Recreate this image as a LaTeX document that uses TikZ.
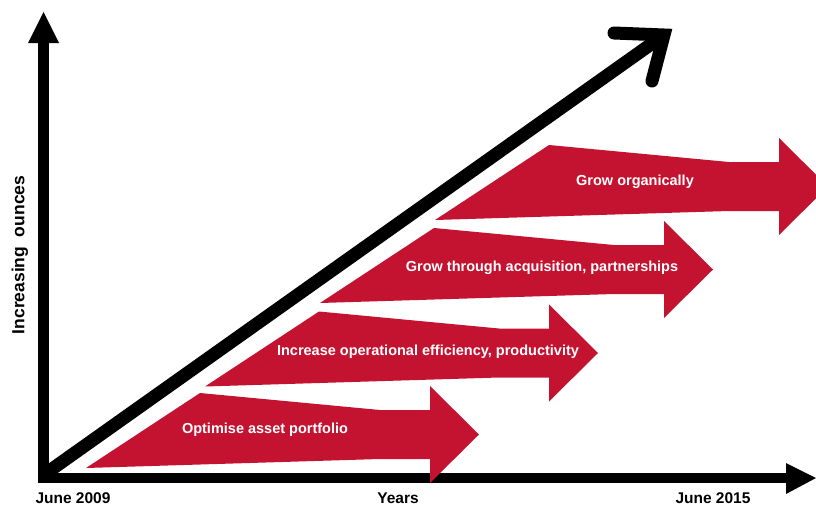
\documentclass[tikz,border=0pt]{standalone}
\usepackage{fontspec}
\setmainfont{Liberation Sans}
\definecolor{brandred}{RGB}{196,19,48}
\begin{document}
\begin{tikzpicture}[x=1pt,y=-1pt,
  lbl/.style={text=white,font=\bfseries\fontsize{14.5}{16}\selectfont,inner sep=0pt},
  axlbl/.style={font=\bfseries\fontsize{15.5}{17}\selectfont,inner sep=0pt,anchor=base},
  axisline/.style={line width=11pt,black},
  bigline/.style={line width=13pt,black},
  redfill/.style={fill=brandred}]
\useasboundingbox (0,0) rectangle (816,506);
% axes
\coordinate (o) at (43.5,478);
\coordinate (ytop) at (43.5,43);
\coordinate (xend) at (786,478);
\draw[axisline] (43.5,483) -- (ytop);
\fill[black] (28,43) -- (43.5,12) -- (59,43) -- cycle;
\draw[line width=10pt,black] (38,478) -- (xend);
\fill[black] (786,463) -- (816,478) -- (786,494) -- cycle;
% red arrows
\begin{scope}
\clip (0,0) rectangle (816,506);
\foreach \dx/\dy in {0/0,119/-81.5,234/-165,349/-248}{
  \begin{scope}[shift={(\dx,\dy)}]
  \fill[redfill] (86,468) -- (200,393) -- (380,410) -- (430,410) -- (430,386)
     -- (479,434.5) -- (430,483) -- (430,459) -- (380,459) -- cycle;
  \end{scope}
}
\end{scope}
\node[lbl] (a1) at (265,430) {Optimise asset portfolio};
\node[lbl] (a2) at (428,352) {Increase operational efficiency, productivity};
\node[lbl] (a3) at (542,268) {Grow through acquisition, partnerships};
\node[lbl] (a4) at (635,182) {Grow organically};
% diagonal arrow
\coordinate (d0) at (45,474);
\coordinate (d1) at (664,35);
\coordinate (h1) at (614,33);
\coordinate (h2) at (652,81);
\draw[bigline] (d0) -- (d1);
\draw[bigline,line cap=round,line join=miter] (h1) -- (d1) -- (h2);
% labels
\node[axlbl] (l1) at (73,503) {June 2009};
\node[axlbl] (l2) at (398,503) {Years};
\node[axlbl] (l3) at (713,503) {June 2015};
\node[font=\bfseries\fontsize{17.5}{19}\selectfont,inner sep=0pt,rotate=90] (yl) at (20,255) {Increasing\ \ ounces};
\end{tikzpicture}
\end{document}
